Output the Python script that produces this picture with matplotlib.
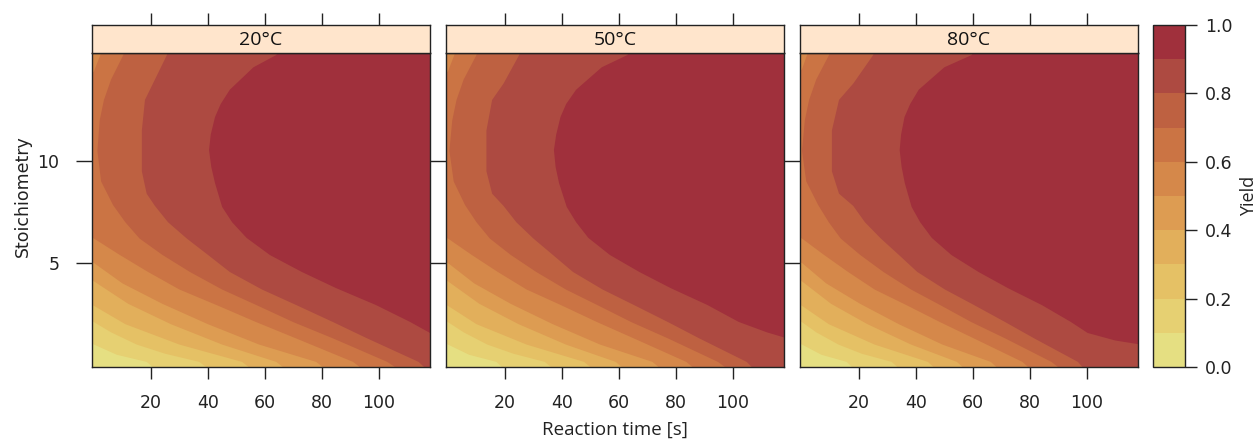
import matplotlib
matplotlib.use("Agg")
import matplotlib.pyplot as plt
import matplotlib.colors as mcolors
import matplotlib.colorbar as mcolorbar

# ---------------------------------------------------------------
# data: yield level boundaries
# each level -> list of (reaction time [s], stoichiometry) points;
# the region to the right of the line has yield >= level
# ---------------------------------------------------------------
temps = ["20°C", "50°C", "80°C"]
levels = [0.0, 0.1, 0.2, 0.3, 0.4, 0.5, 0.6, 0.7, 0.8, 0.9, 1.0]
level_colors = ["#E5DF82", "#E6D072", "#E5C165", "#E2AF5B", "#DD9C52",
                "#D5884A", "#CB7444", "#BE6141", "#AD4A41", "#A0303C"]

bounds_20 = {
    0.1: [(-5, 16), (-5, 1.3), (0, 1.0), (8, 0.5), (18.5, 0.15), (24, -0.5)],
    0.2: [(-5, 16), (-5, 2.4), (0, 2.1), (6, 1.6), (15, 1.0), (25, 0.55), (37, 0.15), (43, -0.5)],
    0.3: [(-5, 16), (-5, 3.2), (0, 2.9), (11, 2.0), (30, 1.0), (52, 0.15), (58, -0.5)],
    0.4: [(-5, 16), (-5, 4.4), (0, 4.1), (12, 3.0), (27, 2.0), (45, 1.0), (64, 0.15), (70, -0.5)],
    0.5: [(-5, 16), (-5, 5.3), (0, 5.0), (10, 4.0), (24, 3.0), (40, 2.0), (58, 1.0), (78, 0.15), (84, -0.5)],
    0.6: [(4.5, 16), (2.5, 15.3), (0, 14.4), (-5, 13.9), (-5, 6.5), (0, 6.2), (9, 5.4), (19, 4.56),
          (30, 3.7), (43, 2.94), (57, 2.1), (71, 1.3), (91, 0.15), (97, -0.5)],
    0.7: [(11.5, 16), (10.3, 15.2), (6, 14), (3.5, 13), (2, 12), (1.2, 10.5), (2.5, 9),
          (6.7, 7.84), (11, 7.0), (16, 6.2), (24, 5.4), (33.7, 4.56), (45, 3.7), (57, 2.94),
          (70, 2.1), (84, 1.3), (103, 0.15), (110, -0.5)],
    0.8: [(27.5, 16), (25.6, 15.2), (20.7, 13.8), (17.9, 13), (16.8, 11.5), (16.8, 9.5),
          (18.5, 8.4), (21.4, 7.8), (26, 7.0), (32.6, 6.2), (40, 5.4), (47.7, 4.56),
          (59, 3.7), (71, 2.94), (84, 2.1), (96, 1.3), (114, 0.15), (119, -0.5)],
    0.9: [(68, 16), (64, 15.2), (56, 14.6), (47.7, 13.5), (44.5, 12.8), (42.5, 12.16),
          (41, 11.3), (40.4, 10.54), (41.2, 9.7), (42.5, 8.92), (45, 7.75), (48.5, 7.0),
          (53.6, 6.23), (61.8, 5.39), (73, 4.56), (85, 3.77), (99, 2.94), (111, 2.11),
          (118, 1.57), (126, 1.1)],
}

bounds_50 = {
    0.1: [(-5, 16), (-5, 1.3), (0, 1.0), (7.4, 0.5), (17, 0.15), (22, -0.5)],
    0.2: [(-5, 16), (-5, 2.4), (0, 2.1), (5.5, 1.6), (13.8, 1.0), (23, 0.55), (34, 0.15), (39.6, -0.5)],
    0.3: [(-5, 16), (-5, 3.2), (0, 2.9), (10, 2.0), (27.6, 1.0), (47.8, 0.15), (53.4, -0.5)],
    0.4: [(-5, 16), (-5, 4.4), (0, 4.1), (11, 3.0), (24.8, 2.0), (41.4, 1.0), (58.9, 0.15), (64.4, -0.5)],
    0.5: [(-5, 16), (-5, 5.3), (0, 5.0), (9.2, 4.0), (22, 3.0), (36.8, 2.0), (53.4, 1.0),
          (71.8, 0.15), (77.3, -0.5)],
    0.6: [(4.5, 16), (2.5, 15.3), (0, 14.4), (-5, 13.9), (-5, 6.5), (0, 6.2), (8.3, 5.4), (17.5, 4.56),
          (27.6, 3.7), (39.6, 2.94), (52.4, 2.1), (65.3, 1.3), (83.7, 0.15), (89.2, -0.5)],
    0.7: [(11.5, 16), (10, 15.2), (5.5, 14), (3, 13), (1.5, 12), (0.5, 10.5), (2, 9),
          (6, 7.84), (10, 7.0), (14.7, 6.2), (22, 5.4), (31, 4.56), (41.4, 3.7), (52.4, 2.94),
          (64.4, 2.1), (77.3, 1.3), (94.8, 0.15), (101.2, -0.5)],
    0.8: [(27, 16), (25, 15.2), (19.5, 13.8), (15.5, 13), (13.5, 11.5), (13.5, 9.5),
          (15.5, 8.4), (19.5, 7.8), (24, 7.0), (30, 6.2), (36.8, 5.4), (43.9, 4.56),
          (54.3, 3.7), (65.3, 2.94), (77.3, 2.1), (88.3, 1.3), (104.9, 0.15), (109.5, -0.5)],
    0.9: [(67, 16), (63, 15.2), (54, 14.6), (45, 13.5), (41.5, 12.8), (39.5, 12.16),
          (38, 11.3), (37.2, 10.54), (37.8, 9.7), (39, 8.92), (41.7, 7.75), (45, 7.0),
          (49.3, 6.23), (56.9, 5.39), (67.2, 4.56), (78.2, 3.77), (91.1, 2.94), (102.1, 2.11),
          (112, 1.6), (118, 1.35), (125, 1.1)],
}

bounds_80 = {
    0.1: [(-5, 16), (-5, 1.3), (0, 1.0), (6.8, 0.5), (15.7, 0.15), (20.4, -0.5)],
    0.2: [(-5, 16), (-5, 2.4), (0, 2.1), (5, 1.6), (12.8, 1.0), (21, 0.55), (31.5, 0.15), (36.6, -0.5)],
    0.3: [(-5, 16), (-5, 3.2), (0, 2.9), (9.4, 2.0), (25.5, 1.0), (44.2, 0.15), (49.3, -0.5)],
    0.4: [(-5, 16), (-5, 4.4), (0, 4.1), (10.2, 3.0), (23, 2.0), (38.3, 1.0), (54.4, 0.15), (59.5, -0.5)],
    0.5: [(-5, 16), (-5, 5.3), (0, 5.0), (8.5, 4.0), (20.4, 3.0), (34, 2.0), (49.3, 1.0),
          (66.3, 0.15), (71.4, -0.5)],
    0.6: [(4, 16), (2, 15.3), (0, 14.5), (-5, 14), (-5, 6.5), (0, 6.2), (7.7, 5.4), (16.2, 4.56),
          (25.5, 3.7), (36.6, 2.94), (48.5, 2.1), (60.4, 1.3), (77.4, 0.15), (82.5, -0.5)],
    0.7: [(11, 16), (9.5, 15.2), (5, 14), (2.5, 13), (1, 12), (0, 10.5), (1.5, 9),
          (5.7, 7.84), (9.4, 7.0), (13.6, 6.2), (20.4, 5.4), (28.6, 4.56), (38.3, 3.7),
          (48.5, 2.94), (59.5, 2.1), (71.4, 1.3), (87.6, 0.15), (93.5, -0.5)],
    0.8: [(27, 16), (25, 15.2), (18, 13.8), (13, 13), (10.5, 11.5), (10.5, 9.5),
          (13, 8.4), (18, 7.8), (22.1, 7.0), (27.7, 6.2), (34, 5.4), (40.5, 4.56),
          (50.2, 3.7), (60.4, 2.94), (71.4, 2.1), (81.6, 1.3), (96.9, 0.15), (101, -0.5)],
    0.9: [(63, 16), (59.6, 15.2), (50, 14.6), (41, 13.5), (38, 12.8), (36, 12.16),
          (34.8, 11.3), (34.3, 10.54), (35, 9.7), (36.1, 8.92), (38.5, 7.75), (41.5, 7.0),
          (45.6, 6.23), (52.5, 5.39), (62, 4.56), (72.3, 3.77), (84.2, 2.94), (94.4, 2.11),
          (100.3, 1.57), (110, 1.2), (119, 1.0), (125, 0.9)],
}

panel_bounds = [bounds_20, bounds_50, bounds_80]

time_ticks = [20, 40, 60, 80, 100]
stoich_ticks = [5, 10]
yield_ticks = [0.0, 0.2, 0.4, 0.6, 0.8, 1.0]

XLIM = (-0.7, 118)
YLIM = (-0.1, 15.3)

# ---------------------------------------------------------------
# layout in pixels (lattice-like)
# ---------------------------------------------------------------
W, H = 1260, 441
fig = plt.figure(figsize=(W / 100, H / 100), dpi=100, facecolor="white")

def px_axes(x0, y0, x1, y1):
    return fig.add_axes([x0 / W, 1 - y1 / H, (x1 - x0) / W, (y1 - y0) / H])

EDGE = "#222222"
TICK_FONT = "DejaVu Sans"
LABEL_FONT = "Open Sans"
panel_x = [(92, 430), (446, 784), (800, 1138)]
top, strip_top, bottom = 53, 25, 367

for i, (x0, x1) in enumerate(panel_x):
    ax = px_axes(x0, top, x1, bottom)
    ax.set_facecolor(level_colors[0])
    bounds = panel_bounds[i]
    for k, lev in enumerate(levels[1:-1]):
        pts = bounds[lev]
        ts = [p[0] for p in pts]
        ss = [p[1] for p in pts]
        ax.fill(ts + [300, 300], ss + [ss[-1], ss[0]],
                color=level_colors[k + 1], lw=0)
    ax.set_xlim(*XLIM)
    ax.set_ylim(*YLIM)
    ax.set_xticks(time_ticks)
    ax.set_xticklabels([str(v) for v in time_ticks], fontsize=12.5,
                       family=TICK_FONT, color="#222222")
    ax.set_yticks(stoich_ticks)
    ax.tick_params(axis="x", direction="out", length=8.5, width=1,
                   color=EDGE, pad=11, top=False)
    if i == 0:
        ax.set_yticklabels([str(v) for v in stoich_ticks], fontsize=12.5,
                           family=TICK_FONT, color="#222222")
        ax.tick_params(axis="y", direction="out", length=8.5, width=1,
                       color=EDGE, pad=12, left=True)
    else:
        ax.set_yticklabels([])
        ax.tick_params(axis="y", left=False)
    if i < 2:
        # short ticks filling the gap to the next panel
        ax.tick_params(axis="y", which="both", right=True, direction="out",
                       length=11.5, width=1, color=EDGE)
    for sp in ax.spines.values():
        sp.set_color(EDGE)
        sp.set_linewidth(1.0)

    # strip with panel title
    sx = px_axes(x0, strip_top, x1, top)
    sx.set_facecolor("#FFE5CC")
    sx.set_xlim(*XLIM)
    sx.set_ylim(0, 1)
    sx.set_xticks(time_ticks)
    sx.set_yticks([])
    sx.tick_params(axis="x", direction="out", length=8.5, width=1, color=EDGE,
                   top=True, bottom=False, labeltop=False, labelbottom=False)
    for sp in sx.spines.values():
        sp.set_color(EDGE)
        sp.set_linewidth(1.0)
    sx.text(0.5, 0.47, temps[i], transform=sx.transAxes, ha="center",
            va="center", fontsize=14, family=LABEL_FONT, color="#111111")

# axis titles
fig.text(615 / W, 1 - 430 / H, "Reaction time [s]", ha="center", va="center",
         fontsize=13.5, family=LABEL_FONT, color="#222222")
fig.text(23 / W, 1 - 196 / H, "Stoichiometry", ha="center", va="center",
         rotation=90, fontsize=12.5, family=TICK_FONT, color="#222222")

# colour key
cax = px_axes(1153, strip_top, 1185, bottom)
cmap = mcolors.ListedColormap(level_colors)
norm = mcolors.BoundaryNorm(levels, cmap.N)
cb = mcolorbar.ColorbarBase(cax, cmap=cmap, norm=norm, ticks=yield_ticks,
                            orientation="vertical")
cb.minorticks_off()
cb.ax.set_yticklabels([f"{v:.1f}" for v in yield_ticks], fontsize=12.5,
                      family=TICK_FONT, color="#222222")
cb.ax.tick_params(which="major", direction="out", length=8.5, width=1,
                  color=EDGE, pad=6)
cb.ax.tick_params(which="minor", length=0)
cb.outline.set_edgecolor(EDGE)
cb.outline.set_linewidth(1.0)
fig.text(1249 / W, 1 - 196 / H, "Yield", ha="center", va="center",
         rotation=90, fontsize=13, family=LABEL_FONT, color="#222222")

fig.savefig("out.png", dpi=100, facecolor="white")
